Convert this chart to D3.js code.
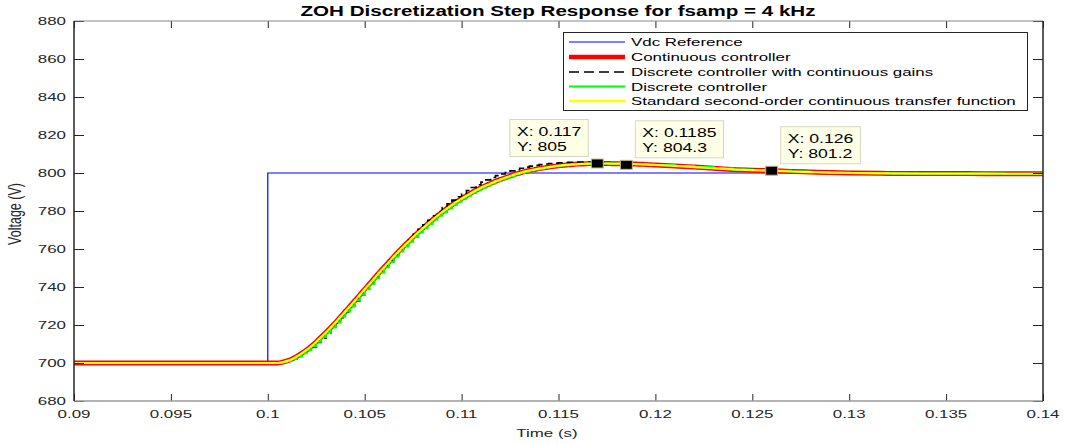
<!DOCTYPE html>
<html><head><meta charset="utf-8">
<script src="https://cdn.jsdelivr.net/npm/d3@7"></script>
<style>body{margin:0;background:#fff;} svg{display:block;font-family:Arial,"Liberation Sans",Helvetica,sans-serif;}</style>
</head><body><svg id="c" width="1065" height="444"></svg>
<script>
// ---------------- data ----------------
const xTicks = [0.09,0.095,0.1,0.105,0.11,0.115,0.12,0.125,0.13,0.135,0.14];
const yTicks = [680,700,720,740,760,780,800,820,840,860,880];

const refTime = [0.09,0.1,0.1,0.14];
const refVolt = [700,700,800,800];

const time = [0.09,
0.1,0.10025,0.1005,0.10075,
0.101,0.10125,0.1015,0.10175,
0.102,0.10225,0.1025,0.10275,
0.103,0.10325,0.1035,0.10375,
0.104,0.10425,0.1045,0.10475,
0.105,0.10525,0.1055,0.10575,
0.106,0.10625,0.1065,0.10675,
0.107,0.10725,0.1075,0.10775,
0.108,0.10825,0.1085,0.10875,
0.109,0.10925,0.1095,0.10975,
0.11,0.11025,0.1105,0.11075,
0.111,0.11125,0.1115,0.11175,
0.112,0.11225,0.1125,0.11275,
0.113,0.11325,0.1135,0.11375,
0.114,0.11425,0.1145,0.11475,
0.115,0.11525,0.1155,0.11575,
0.116,0.11625,0.1165,0.11675,
0.117,0.11725,0.1175,0.11775,
0.118,0.11825,0.1185,0.11875,
0.119,0.11925,0.1195,0.11975,
0.12,
0.121,0.122,0.123,0.124,0.125,0.126,0.127,0.128,0.129,0.13,
0.132,0.134,0.136,0.138,0.14];

const continuousCtrl = [700,
700.0,700.0,700.0,700.4,
701.1,702.1,703.5,705.1,
706.9,708.9,711.2,713.6,
716.1,718.7,721.4,724.3,
727.1,730.0,732.9,735.9,
738.8,741.7,744.6,747.6,
750.4,753.2,756.0,758.7,
761.3,763.8,766.3,768.7,
771.0,773.2,775.4,777.5,
779.5,781.4,783.2,784.9,
786.5,788.0,789.5,790.9,
792.2,793.4,794.5,795.6,
796.6,797.5,798.4,799.3,
800.0,800.7,801.3,801.8,
802.3,802.7,803.1,803.5,
803.8,804.1,804.3,804.5,
804.7,804.8,804.9,805.0,
805.0,805.0,805.0,804.9,
804.9,804.9,804.8,804.8,
804.7,804.6,804.5,804.3,
804.2,
803.7,803.1,802.5,801.9,801.5,801.2,800.8,800.5,800.2,800.0,
799.8,799.7,799.7,799.6,799.6];

const discreteContGains = [700,
700.0,700.0,700.0,700.4,
701.1,702.0,703.4,704.9,
706.6,708.5,710.8,713.1,
715.5,718.2,720.9,723.8,
726.7,729.7,732.7,735.8,
738.8,741.9,744.9,748.0,
751.0,754.0,756.9,759.8,
762.5,765.2,767.8,770.4,
772.8,775.1,777.5,779.7,
781.8,783.8,785.7,787.5,
789.2,790.8,792.4,793.8,
795.2,796.4,797.6,798.6,
799.5,800.3,801.1,801.8,
802.5,803.1,803.6,804.0,
804.4,804.7,805.0,805.2,
805.4,805.5,805.6,805.6,
805.7,805.6,805.6,805.5,
805.5,805.4,805.3,805.2,
805.1,805.0,804.9,804.9,
804.8,804.7,804.5,804.3,
804.2,
803.7,803.1,802.5,801.9,801.5,801.2,800.8,800.5,800.2,800.0,
799.8,799.7,799.7,799.6,799.6];

const discreteCtrl = [700,
700.0,700.0,700.0,700.4,
701.1,702.1,703.5,705.1,
706.9,708.9,711.2,713.6,
716.1,718.7,721.4,724.3,
727.1,730.0,732.9,735.9,
738.8,741.7,744.6,747.6,
750.4,753.2,756.0,758.7,
761.3,763.8,766.3,768.7,
771.0,773.2,775.4,777.5,
779.5,781.4,783.2,784.9,
786.5,788.0,789.5,790.9,
792.2,793.4,794.5,795.6,
796.6,797.5,798.4,799.3,
800.0,800.7,801.3,801.8,
802.3,802.7,803.1,803.5,
803.8,804.1,804.3,804.5,
804.7,804.8,804.9,805.0,
805.0,805.0,805.0,804.9,
804.9,804.9,804.8,804.8,
804.7,804.6,804.5,804.3,
804.2,
803.7,803.1,802.5,801.9,801.5,801.2,800.8,800.5,800.2,800.0,
799.8,799.7,799.7,799.6,799.6];

const stdSecondOrder = [700,
700.0,700.0,700.0,700.4,
701.1,702.1,703.5,705.1,
706.9,708.9,711.2,713.6,
716.1,718.7,721.4,724.3,
727.1,730.0,732.9,735.9,
738.8,741.7,744.6,747.6,
750.4,753.2,756.0,758.7,
761.3,763.8,766.3,768.7,
771.0,773.2,775.4,777.5,
779.5,781.4,783.2,784.9,
786.5,788.0,789.5,790.9,
792.2,793.4,794.5,795.6,
796.6,797.5,798.4,799.3,
800.0,800.7,801.3,801.8,
802.3,802.7,803.1,803.5,
803.8,804.1,804.3,804.5,
804.7,804.8,804.9,805.0,
805.0,805.0,805.0,804.9,
804.9,804.9,804.8,804.8,
804.7,804.6,804.5,804.3,
804.2,
803.7,803.1,802.5,801.9,801.5,801.2,800.8,800.5,800.2,800.0,
799.8,799.7,799.7,799.6,799.6];

const tipX = [0.117, 0.1185, 0.126];
const tipY = [805, 804.3, 801.2];
const tipXLabel = ["0.117", "0.1185", "0.126"];
const tipYLabel = ["805", "804.3", "801.2"];

const legendLabels = ["Vdc Reference","Continuous controller","Discrete controller with continuous gains","Discrete controller","Standard second-order continuous transfer function"];

// ---------------- layout ----------------
const SX = 1.47; // horizontal text stretch
const L = 74, R = 1043, T = 21, B = 401;
const svg = d3.select('#c');
const x = d3.scaleLinear().domain([0.09,0.14]).range([L,R]);
const y = d3.scaleLinear().domain([680,880]).range([B,T]);

function stext(g, px, py, str, size, anchor, weight, color) {
  return g.append('text')
    .attr('transform', `translate(${px},${py}) scale(${SX},1)`)
    .attr('text-anchor', anchor || 'start')
    .attr('font-size', size)
    .attr('font-weight', weight || 'normal')
    .attr('fill', color || '#262626')
    .text(str);
}

svg.append('rect').attr('width',1065).attr('height',444).attr('fill','#fff');

svg.append('clipPath').attr('id','clip').append('rect')
  .attr('x',L).attr('y',T).attr('width',R-L).attr('height',B-T);

const plot = svg.append('g').attr('clip-path','url(#clip)');

const pts = vals => time.map((t,i)=>[t, vals[i]]);
const smooth = d3.line().x(d=>x(d[0])).y(d=>y(d[1])).curve(d3.curveMonotoneX);
const stairs = d3.line().x(d=>x(d[0])).y(d=>y(d[1])).curve(d3.curveStepAfter);
const straight = d3.line().x(d=>x(d[0])).y(d=>y(d[1]));

plot.append('path').attr('d', straight(refTime.map((t,i)=>[t,refVolt[i]])))
  .attr('fill','none').attr('stroke','#0000ff').attr('stroke-width',1.2);
plot.append('path').attr('d', smooth(pts(continuousCtrl)))
  .attr('fill','none').attr('stroke','#ff0000').attr('stroke-width',5);
plot.append('path').attr('d', stairs(pts(discreteContGains)))
  .attr('fill','none').attr('stroke','#000').attr('stroke-width',1.6).attr('stroke-dasharray','7,4');
plot.append('path').attr('d', stairs(pts(discreteCtrl)))
  .attr('fill','none').attr('stroke','#00ff00').attr('stroke-width',2);
plot.append('path').attr('d', smooth(pts(stdSecondOrder)))
  .attr('fill','none').attr('stroke','#ffff00').attr('stroke-width',2.2);

// ---------------- axes / frame ----------------
const axG = svg.append('g');
axG.append('g').attr('transform',`translate(0,${B})`)
  .call(d3.axisBottom(x).tickValues(xTicks).tickSize(-7).tickSizeOuter(0).tickFormat(''))
  .call(g=>g.select('.domain').remove());
axG.append('g').attr('transform',`translate(0,${T})`)
  .call(d3.axisTop(x).tickValues(xTicks).tickSize(-7).tickSizeOuter(0).tickFormat(''))
  .call(g=>g.select('.domain').remove());
axG.append('g').attr('transform',`translate(${L},0)`)
  .call(d3.axisLeft(y).tickValues(yTicks).tickSize(-10).tickSizeOuter(0).tickFormat(''))
  .call(g=>g.select('.domain').remove());
axG.append('g').attr('transform',`translate(${R},0)`)
  .call(d3.axisRight(y).tickValues(yTicks).tickSize(-10).tickSizeOuter(0).tickFormat(''))
  .call(g=>g.select('.domain').remove());
axG.selectAll('.tick line').attr('stroke','#262626').attr('stroke-width',1);

axG.append('line').attr('x1',L).attr('x2',R).attr('y1',B).attr('y2',B).attr('stroke','#9a9a9a').attr('stroke-width',1.6);
axG.append('line').attr('x1',L).attr('x2',R).attr('y1',T).attr('y2',T).attr('stroke','#8a8a8a').attr('stroke-width',1.2);
axG.append('line').attr('x1',L).attr('x2',L).attr('y1',T).attr('y2',B).attr('stroke','#262626').attr('stroke-width',1.5);
axG.append('line').attr('x1',R).attr('x2',R).attr('y1',T).attr('y2',B).attr('stroke','#262626').attr('stroke-width',1.5);

xTicks.forEach(v => stext(svg, x(v), 418, String(v), 11.5, 'middle'));
yTicks.forEach(v => stext(svg, 66, y(v)+4, String(v), 11.5, 'end'));

stext(svg, 547, 437, 'Time (s)', 11.5, 'middle');
svg.append('text')
  .attr('transform', `translate(21,214) scale(${SX},1) rotate(-90)`)
  .attr('text-anchor','middle').attr('font-size',12.5).attr('fill','#262626')
  .text('Voltage (V)');

stext(svg, 558, 15.5, 'ZOH Discretization Step Response for fsamp = 4 kHz', 14, 'middle', 'bold', '#000');

// ---------------- legend ----------------
const lg = svg.append('g');
lg.append('rect').attr('x',563.5).attr('y',32.5).attr('width',464).attr('height',78)
  .attr('fill','#fff').attr('stroke','#262626').attr('stroke-width',1);
const lgStyles = [
  {c:'#0000ff', w:1.2, d:null},
  {c:'#ff0000', w:4.5, d:null},
  {c:'#000', w:1.5, d:'10,5'},
  {c:'#00ff00', w:2, d:null},
  {c:'#ffff00', w:2.5, d:null}
];
const rowY = [42, 57, 72, 86.5, 101];
legendLabels.forEach((lab,i)=>{
  const s = lgStyles[i];
  const ln = lg.append('line').attr('x1',569).attr('x2',625).attr('y1',rowY[i]).attr('y2',rowY[i])
    .attr('stroke',s.c).attr('stroke-width',s.w);
  if (s.d) ln.attr('stroke-dasharray', s.d);
  stext(lg, 631, rowY[i]+4, lab, 11.5, 'start', 'normal', '#000');
});

// ---------------- data tips ----------------
const tipSide = ['left','right','right'];
const tg = svg.append('g');
tipX.forEach((tx,i)=>{
  const mx = x(tx), my = y(tipY[i]);
  const g = tg.append('g');
  const box = g.append('rect').attr('fill','#ffffe8').attr('stroke','#d6d6c2').attr('stroke-width',1);
  const t1 = stext(g, 0, 0, 'X: ' + tipXLabel[i], 12, 'start', 'normal', '#000');
  const t2 = stext(g, 0, 0, 'Y: ' + tipYLabel[i], 12, 'start', 'normal', '#000');
  const w = Math.max(t1.node().getComputedTextLength(), t2.node().getComputedTextLength()) * SX + 14;
  const h = 37;
  const bx = tipSide[i] === 'left' ? mx - 9 - w : mx + 9;
  const by = my - 44;
  box.attr('x', bx).attr('y', by).attr('width', w).attr('height', h);
  t1.attr('transform', `translate(${bx+7},${by+16}) scale(${SX},1)`);
  t2.attr('transform', `translate(${bx+7},${by+31}) scale(${SX},1)`);
  tg.append('rect').attr('x', mx-6).attr('y', my-4.5).attr('width',12).attr('height',9)
    .attr('fill','#000').attr('stroke','#c9bb8c').attr('stroke-width',1);
});
</script></body></html>
